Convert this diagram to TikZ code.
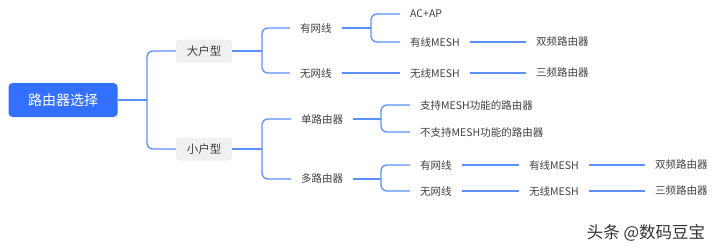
\documentclass[tikz,border=0pt]{standalone}
\usepackage{fontspec}
\setmainfont{Noto Sans CJK SC}
\usetikzlibrary{positioning}
\definecolor{rootblue}{RGB}{51,112,255}
\definecolor{linkblue}{RGB}{94,143,255}
\definecolor{tagfill}{RGB}{239,240,242}
\definecolor{leaftext}{RGB}{64,64,64}

\begin{document}
\begin{tikzpicture}[x=1pt, y=-1pt,
  rootbox/.style={
    rectangle, rounded corners=4pt,
    fill=rootblue, text=white,
    minimum width=109pt, minimum height=34pt,
    font=\fontsize{14}{16}\selectfont
  },
  tagbox/.style={
    rectangle, rounded corners=3pt,
    fill=tagfill, text=leaftext,
    minimum width=56pt, minimum height=23pt,
    font=\fontsize{11.5}{13}\selectfont
  },
  leaf/.style={anchor=west, inner xsep=10pt, inner ysep=0pt,
    text=leaftext, font=\fontsize{10.5}{12}\selectfont},
  link/.style={draw=linkblue, line width=1.3pt},
  fork/.style={link, rounded corners=6pt}
]
\useasboundingbox (0,0) rectangle (720,250);

% ---- Root and first level ----
\node[rootbox] (root)  at (63,100)  {路由器选择};
\node[tagbox]  (big)   at (204,51)  {大户型};
\node[tagbox]  (small) at (204,149) {小户型};

% ---- Large flat ----
\node[leaf] (wired) at (290,28)  {有网线};
\node[leaf] (wless) at (290,73)  {无网线};
\node[leaf] (acap)  at (400,14)  {AC+AP};
\node[leaf] (wmesh) at (400,42)  {有线MESH};
\node[leaf] (lmesh) at (400,73)  {无线MESH};
\node[leaf] (dualA) at (526,42)  {双频路由器};
\node[leaf] (triA)  at (526,73)  {三频路由器};

% ---- Small flat ----
\node[leaf] (single) at (291,119) {单路由器};
\node[leaf] (multi)  at (291,179) {多路由器};
\node[leaf] (sup)    at (410,105) {支持MESH功能的路由器};
\node[leaf] (nosup)  at (410,132) {不支持MESH功能的路由器};
\node[leaf] (mwired) at (410,165) {有网线};
\node[leaf] (mwless) at (410,191) {无网线};
\node[leaf] (mwmesh) at (519,165) {有线MESH};
\node[leaf] (mlmesh) at (519,191) {无线MESH};
\node[leaf] (dualB)  at (645,165) {双频路由器};
\node[leaf] (triB)   at (645,191) {三频路由器};

% ---- Junctions ----
\coordinate (j0) at (147,100);
\coordinate (j1) at (262,51);
\coordinate (j2) at (371,28);
\coordinate (j3) at (262,149);
\coordinate (j4) at (381,119);
\coordinate (j5) at (381,179);

% ---- Connectors ----
\draw[link] (root) -- (j0);
\draw[fork] (j0) |- (big);
\draw[fork] (j0) |- (small);

\draw[link] (big) -- (j1);
\draw[fork] (j1) |- (wired);
\draw[fork] (j1) |- (wless);
\draw[link] (wired) -- (j2);
\draw[fork] (j2) |- (acap);
\draw[fork] (j2) |- (wmesh);
\draw[link] (wmesh) -- (dualA);
\draw[link] (wless) -- (lmesh);
\draw[link] (lmesh) -- (triA);

\draw[link] (small) -- (j3);
\draw[fork] (j3) |- (single);
\draw[fork] (j3) |- (multi);
\draw[link] (single) -- (j4);
\draw[fork] (j4) |- (sup);
\draw[fork] (j4) |- (nosup);
\draw[link] (multi) -- (j5);
\draw[fork] (j5) |- (mwired);
\draw[fork] (j5) |- (mwless);
\draw[link] (mwired) -- (mwmesh);
\draw[link] (mwmesh) -- (dualB);
\draw[link] (mwless) -- (mlmesh);
\draw[link] (mlmesh) -- (triB);

% ---- Watermark ----
\node[text=leaftext!80!black, font=\fontsize{16.5}{19}\selectfont]
  (mark) at (646,233) {头条 @数码豆宝};

\end{tikzpicture}
\end{document}
